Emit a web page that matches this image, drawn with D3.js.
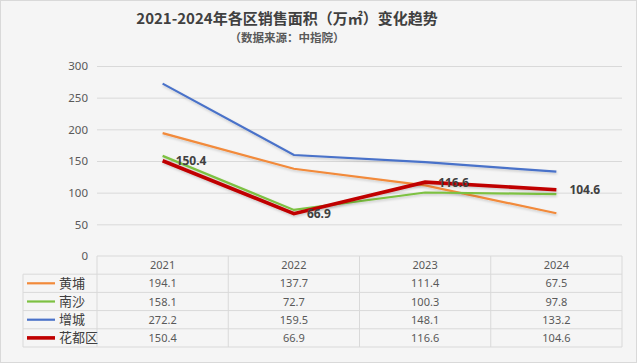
<!DOCTYPE html>
<html><head><meta charset="utf-8">
<script src="https://cdn.jsdelivr.net/npm/d3@7/dist/d3.min.js"></script>
<style>
html,body{margin:0;padding:0;background:#f4f4f4;}
svg{display:block;}
</style></head>
<body>
<script>
const years = ["2021","2022","2023","2024"];
const seriesNames = ["黄埔","南沙","增城","花都区"];
const huangpu = [194.1,137.7,111.4,67.5];
const nansha = [158.1,72.7,100.3,97.8];
const zengcheng = [272.2,159.5,148.1,133.2];
const huadu = [150.4,66.9,116.6,104.6];
const yTicks = [0,50,100,150,200,250,300];
const titleMain = "2021-2024年各区销售面积（万㎡）变化趋势";
const subTitle = "（数据来源：中指院）";

const seriesValues = [huangpu, nansha, zengcheng, huadu];
const colors = ["#F28A3A","#7DC142","#4A72C9","#C00000"];
const widths = [2.2,2.2,2.2,3.6];

const W=637,H=363;
const svg=d3.select("body").append("svg").attr("width",W).attr("height",H);
svg.append("rect").attr("x",0.5).attr("y",0.5).attr("width",W-1).attr("height",H-1)
  .attr("fill","#f5f5f5").attr("stroke","#d9d9d9");

const plotL=97, plotR=622, plotT=66, plotB=256;
const x=d3.scaleBand().domain(years).range([plotL,plotR]);
const y=d3.scaleLinear().domain([0,300]).range([plotB,plotT]);

// title
svg.append("text").attr("x",287).attr("y",24).attr("text-anchor","middle")
  .attr("font-size",15).attr("font-weight","bold").attr("fill","#404040")
  .attr("font-family","'Noto Sans CJK SC','Liberation Sans',sans-serif").text(titleMain);
svg.append("text").attr("x",287).attr("y",42).attr("text-anchor","middle")
  .attr("font-size",11.5).attr("font-weight","bold").attr("fill","#595959")
  .attr("font-family","'Noto Sans CJK SC',sans-serif").text(subTitle);

// gridlines
const gy=d3.axisLeft(y).tickValues(yTicks).tickSize(-(plotR-plotL)).tickFormat("");
const gg=svg.append("g").attr("transform",`translate(${plotL},0)`).call(gy);
gg.select(".domain").remove();
gg.selectAll("line").attr("stroke","#d9d9d9");
gg.selectAll("line").filter(d=>d===0).remove();

const ya=d3.axisLeft(y).tickValues(yTicks).tickSize(0).tickPadding(9);
const ag=svg.append("g").attr("transform",`translate(${plotL},0)`).call(ya);
ag.select(".domain").remove();
ag.selectAll("text").attr("font-size",11.5).attr("fill","#595959")
  .attr("font-family","'Noto Sans','DejaVu Sans',sans-serif");

// lines
const line=d3.line().x((d,i)=>x(years[i])+x.bandwidth()/2).y(d=>y(d));
const defs=svg.append("defs");
const f=defs.append("filter").attr("id","sh").attr("x","-10%").attr("y","-10%").attr("width","120%").attr("height","140%");
f.append("feDropShadow").attr("dx",0.5).attr("dy",1.5).attr("stdDeviation",0.8).attr("flood-color","#000").attr("flood-opacity",0.18);
seriesValues.forEach((vals,k)=>{
  svg.append("path").datum(vals).attr("d",line).attr("fill","none")
    .attr("stroke",colors[k]).attr("stroke-width",widths[k]).attr("filter","url(#sh)");
});

// data labels for 花都区
svg.append("g").selectAll("text").data(huadu).join("text")
  .attr("x",(d,i)=>x(years[i])+x.bandwidth()/2+13).attr("y",d=>y(d)+4.5)
  .attr("font-size",12).attr("font-weight","bold").attr("fill","#404040")
  .attr("font-family","'Noto Sans','DejaVu Sans',sans-serif").text(d=>d.toFixed(1));

// data table
const rowH=18.2, tTop=256, legL=23;
const tg=svg.append("g").attr("font-family","'Noto Sans','DejaVu Sans',sans-serif").attr("font-size",11);
const lc="#d9d9d9";
tg.append("line").attr("x1",plotL).attr("x2",plotR).attr("y1",tTop).attr("y2",tTop).attr("stroke",lc);
for(let r=1;r<=5;r++){
  const yy=tTop+r*rowH;
  tg.append("line").attr("x1",legL).attr("x2",plotR).attr("y1",yy).attr("y2",yy).attr("stroke",lc);
}
tg.append("line").attr("x1",legL).attr("x2",legL).attr("y1",tTop+rowH).attr("y2",tTop+5*rowH).attr("stroke",lc);
years.forEach(yr=>{
  tg.append("line").attr("x1",x(yr)).attr("x2",x(yr)).attr("y1",tTop).attr("y2",tTop+5*rowH).attr("stroke",lc);
});
tg.append("line").attr("x1",plotR).attr("x2",plotR).attr("y1",tTop).attr("y2",tTop+5*rowH).attr("stroke",lc);
tg.selectAll("text.h").data(years).join("text").attr("class","h")
  .attr("x",d=>x(d)+x.bandwidth()/2).attr("y",tTop+rowH/2+4).attr("text-anchor","middle")
  .attr("fill","#595959").text(d=>d);
seriesValues.forEach((vals,k)=>{
  const cy=tTop+(k+1)*rowH+rowH/2;
  tg.append("line").attr("x1",27).attr("x2",55).attr("y1",cy).attr("y2",cy)
    .attr("stroke",colors[k]).attr("stroke-width",widths[k]);
  tg.append("text").attr("x",59).attr("y",cy+4.5).attr("font-size",13)
    .attr("font-family","'Noto Sans CJK SC',sans-serif").attr("fill","#404040").text(seriesNames[k]);
  vals.forEach((v,i)=>{
    tg.append("text").attr("x",x(years[i])+x.bandwidth()/2).attr("y",cy+4).attr("text-anchor","middle")
      .attr("fill","#595959").text(v.toFixed(1));
  });
});
</script>
</body></html>
